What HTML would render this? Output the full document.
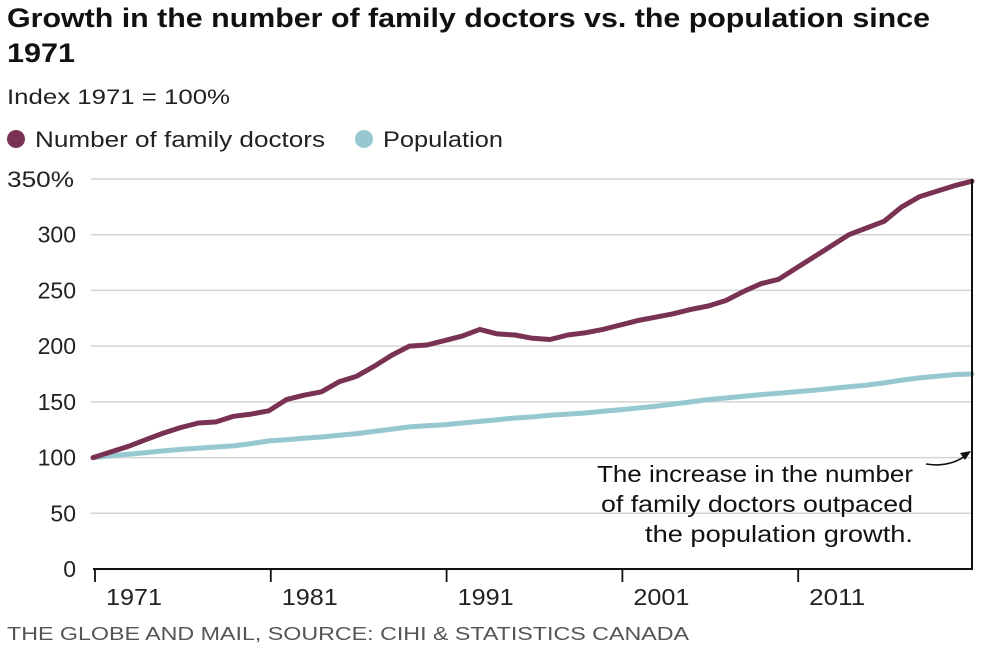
<!DOCTYPE html>
<html><head><meta charset="utf-8"><style>
html,body{margin:0;padding:0;background:#fff;}
svg{display:block;font-family:"Liberation Sans",sans-serif;}
</style></head><body>
<svg width="1000" height="661" viewBox="0 0 1000 661">
<text x="7" y="27" font-size="27" font-weight="bold" fill="#111" textLength="923" lengthAdjust="spacingAndGlyphs">Growth in the number of family doctors vs. the population since</text>
<text x="7" y="62" font-size="27" font-weight="bold" fill="#111" textLength="68" lengthAdjust="spacingAndGlyphs">1971</text>
<text x="7" y="104" font-size="21" fill="#222" textLength="223" lengthAdjust="spacingAndGlyphs">Index 1971 = 100%</text>
<g>
<g>
<circle cx="16" cy="139" r="9" fill="#7a3252"/>
<text x="35" y="147" font-size="22" fill="#222" textLength="290" lengthAdjust="spacingAndGlyphs">Number of family doctors</text>
</g>
<g>
<circle cx="364" cy="139" r="9" fill="#96c9cf"/>
<text x="383" y="147" font-size="22" fill="#222" textLength="120" lengthAdjust="spacingAndGlyphs">Population</text>
</g>
</g>
<g id="grid"></g>
<g id="ylabels"></g>
<g id="series"></g>
<g id="xaxis"></g>
<g font-size="23" fill="#111" text-anchor="end">
<text x="913" y="482" textLength="316" lengthAdjust="spacingAndGlyphs">The increase in the number</text>
<text x="913" y="512" textLength="312" lengthAdjust="spacingAndGlyphs">of family doctors outpaced</text>
<text x="913" y="542" textLength="268" lengthAdjust="spacingAndGlyphs">the population growth.</text>
<path d="M926 464 Q950 468 968 454" fill="none" stroke="#111" stroke-width="1.6"/>
<path d="M971 451 L960 453 L965 460 Z" fill="#111"/>
</g>
<text x="7" y="640" font-size="18" fill="#555" textLength="682" lengthAdjust="spacingAndGlyphs">THE GLOBE AND MAIL, SOURCE: CIHI &amp; STATISTICS CANADA</text>
</svg>
<script>
const years = [1971,1972,1973,1974,1975,1976,1977,1978,1979,1980,1981,1982,1983,1984,1985,1986,1987,1988,1989,1990,1991,1992,1993,1994,1995,1996,1997,1998,1999,2000,2001,2002,2003,2004,2005,2006,2007,2008,2009,2010,2011,2012,2013,2014,2015,2016,2017,2018,2019,2020,2021];
const doctors = [100,105,110,116,122,127,131,132,137,139,142,152,156,159,168,173,182,192,200,201,205,209,215,211,210,207,206,210,212,215,219,223,226,229,233,236,241,249,256,260,270,280,290,300,306,312,325,334,339,344,348];
const population = [100,101.5,103,104.5,106,107.3,108.5,109.5,110.5,112.5,115,116,117.3,118.5,120,121.5,123.5,125.5,127.5,128.5,129.5,131,132.5,134,135.5,136.5,138,139,140,141.5,143,144.5,146,148,150,152,153.5,155,156.5,157.8,159,160.5,162,163.5,165,167,169.5,171.5,173,174.5,175];
const yTicks = [0,50,100,150,200,250,300,350];
const yTickLabels = ["0","50","100","150","200","250","300","350%"];
const xTicks = [1971,1981,1991,2001,2011];
const xTickLabels = ["1971","1981","1991","2001","2011"];

const NS="http://www.w3.org/2000/svg";
const X0=93,X1=972,Y0=569,PPU=1.1143;
function x(yr){return X0+(yr-1971)*(X1-X0)/50;}
function y(v){return Y0-v*PPU;}
function mk(tag,attrs,parent){const e=document.createElementNS(NS,tag);for(const k in attrs)e.setAttribute(k,attrs[k]);parent.appendChild(e);return e;}
const grid=document.getElementById('grid'),yl=document.getElementById('ylabels'),ser=document.getElementById('series'),xa=document.getElementById('xaxis');
yTicks.forEach((t,i)=>{
  if(t>0){const l=mk('line',{x1:91,x2:X1,y1:y(t),y2:y(t),stroke:'#d4d4d4','stroke-width':1.5},grid);
  
  }
  const last=i===yTicks.length-1;
  const tx=mk('text',{x:last?7:76,y:y(t)+8,'font-size':23,fill:'#222','text-anchor':last?'start':'end'},yl);
  if(last){tx.setAttribute('textLength',67);tx.setAttribute('lengthAdjust','spacingAndGlyphs');tx.setAttribute('font-size',22);}
  tx.textContent=yTickLabels[i];
  
  
});
function line(data,color,name){
  const d=data.map((v,i)=>(i?'L':'M')+x(years[i]).toFixed(1)+' '+y(v).toFixed(1)).join(' ');
  const p=mk('path',{d:d,fill:'none',stroke:color,'stroke-width':5,'stroke-linejoin':'round','stroke-linecap':'round'},ser);
  
  
}
line(population,'#96c9cf','population-line');
line(doctors,'#7a3252','doctors-line');
const ax=mk('line',{x1:X0,x2:X1+1,y1:Y0,y2:Y0,stroke:'#111','stroke-width':2},xa);


const rb=mk('line',{x1:X1,x2:X1,y1:y(350),y2:Y0,stroke:'#111','stroke-width':2},xa);


xTicks.forEach((t,i)=>{
  const tk=mk('line',{x1:x(t)+2,x2:x(t)+2,y1:Y0,y2:Y0+13,stroke:'#111','stroke-width':1.8},xa);
  
  
  const tx=mk('text',{x:x(t)+13,y:Y0+36,'font-size':23,fill:'#222',textLength:56,lengthAdjust:'spacingAndGlyphs'},xa);
  tx.textContent=xTickLabels[i];
  
  
});
</script>
</body></html>
